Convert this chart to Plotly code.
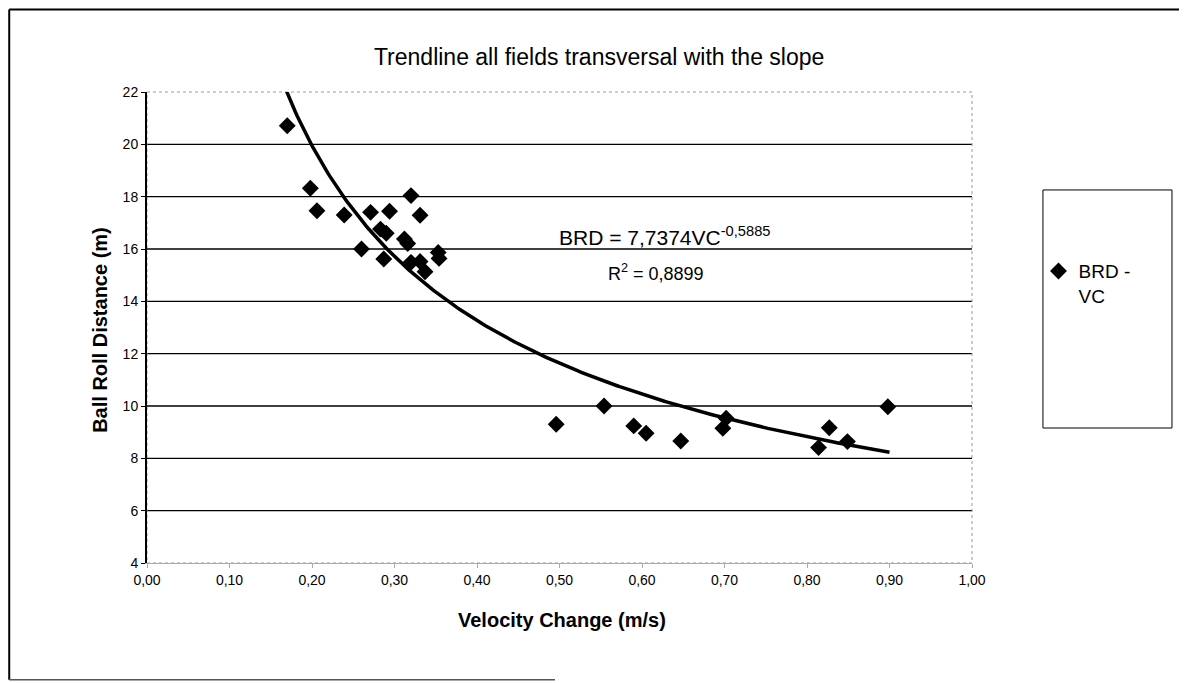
import numpy as np
import plotly.graph_objects as go

# Data
velocity_change = [0.170, 0.198, 0.206, 0.239, 0.260, 0.271, 0.283, 0.287, 0.290, 0.294,
                   0.312, 0.316, 0.320, 0.320, 0.331, 0.331, 0.337, 0.353, 0.354,
                   0.496, 0.554, 0.590, 0.605, 0.647, 0.698, 0.702, 0.814, 0.827, 0.849, 0.898]
ball_roll_distance = [20.71, 18.32, 17.46, 17.30, 16.00, 17.40, 16.76, 15.62, 16.60, 17.44,
                      16.38, 16.21, 18.04, 15.49, 17.29, 15.52, 15.13, 15.87, 15.64,
                      9.30, 10.00, 9.24, 8.96, 8.66, 9.15, 9.53, 8.41, 9.17, 8.64, 9.97]

# Power trendline as displayed on the chart: BRD = a * VC^b
trend_a = 7.7374
trend_b = -0.5885
trend_r2 = 0.8899
trend_x_start = 0.165
trend_x_end = 0.90

x_ticks = [0.0, 0.1, 0.2, 0.3, 0.4, 0.5, 0.6, 0.7, 0.8, 0.9, 1.0]
y_ticks = [4, 6, 8, 10, 12, 14, 16, 18, 20, 22]
y_grid = [6, 8, 10, 12, 14, 16, 18, 20]

FONT = "Arial, Liberation Sans, sans-serif"

tx = np.linspace(trend_x_start, trend_x_end, 300)
ty = trend_a * tx ** trend_b

fig = go.Figure()

# gridlines
for g in y_grid:
    fig.add_shape(type="line", xref="paper", yref="y", x0=0, x1=1, y0=g, y1=g,
                  line=dict(color="black", width=1.3), layer="below")

fig.add_trace(go.Scatter(
    x=velocity_change, y=ball_roll_distance, mode="markers",
    name="BRD -<br>VC",
    marker=dict(symbol="diamond", size=13, color="black"),
))
fig.add_trace(go.Scatter(
    x=tx, y=ty, mode="lines", showlegend=False,
    line=dict(color="black", width=3.5), hoverinfo="skip",
))

# plot area border (dotted grey)
fig.add_shape(type="rect", xref="paper", yref="paper", x0=0, x1=1, y0=0, y1=1,
              line=dict(color="#999999", width=1, dash="dot"), layer="below")

# legend box
fig.add_shape(type="rect", xref="paper", yref="paper",
              x0=1.086, x1=1.2424, y0=0.2866, y1=0.792,
              line=dict(color="black", width=1))

# outer frame (top, left, partial bottom)
fig.add_shape(type="line", xref="paper", yref="paper", x0=-0.167, x1=1.3, y0=1.175, y1=1.175,
              line=dict(color="black", width=2))
fig.add_shape(type="line", xref="paper", yref="paper", x0=-0.167, x1=-0.167, y0=-0.248, y1=1.175,
              line=dict(color="black", width=2))
fig.add_shape(type="line", xref="paper", yref="paper", x0=-0.167, x1=0.4945, y0=-0.248, y1=-0.248,
              line=dict(color="#555555", width=1.5))

# equation annotations
fig.add_annotation(x=0.497, y=16.5, xref="x", yref="y", xanchor="left", yanchor="middle",
                   text="BRD = 7,7374VC<sup>-0,5885</sup>", showarrow=False,
                   font=dict(family=FONT, size=21, color="black"))
fig.add_annotation(x=0.617, y=15.1, xref="x", yref="y", xanchor="center", yanchor="middle",
                   text="R<sup>2</sup> = 0,8899", showarrow=False,
                   font=dict(family=FONT, size=18, color="black"))

# axis titles
fig.add_annotation(x=0.503, y=-0.121, xref="paper", yref="paper", xanchor="center", yanchor="middle",
                   text="<b>Velocity Change (m/s)</b>", showarrow=False,
                   font=dict(family=FONT, size=20, color="black"))
fig.add_annotation(x=-0.057, y=0.495, xref="paper", yref="paper", xanchor="center", yanchor="middle",
                   text="<b>Ball Roll Distance (m)</b>", showarrow=False, textangle=-90,
                   font=dict(family=FONT, size=20, color="black"))

fig.update_layout(
    width=1187, height=683,
    margin=dict(l=139, r=223, t=84, b=128),
    paper_bgcolor="white", plot_bgcolor="white",
    separators=",.",
    font=dict(family=FONT, color="black"),
    title=dict(text="Trendline all fields transversal with the slope",
               xref="container", yref="container",
               x=0.498, xanchor="center", y=0.928, yanchor="middle",
               font=dict(family=FONT, size=23, color="black")),
    showlegend=True,
    legend=dict(x=1.0806, y=0.66, xanchor="left", yanchor="top", valign="top",
                font=dict(family=FONT, size=19, color="black"),
                bgcolor="rgba(0,0,0,0)", borderwidth=0, itemwidth=30),
    xaxis=dict(range=[0, 1], tickvals=x_ticks, tickformat=".2f",
               showgrid=False, zeroline=False,
               showline=True, linecolor="#aaaaaa", linewidth=1,
               ticks="outside", ticklen=4, tickcolor="#aaaaaa",
               tickfont=dict(family=FONT, size=14, color="black")),
    yaxis=dict(range=[4, 22], tickvals=y_ticks,
               showgrid=False, zeroline=False,
               showline=True, linecolor="black", linewidth=2,
               ticks="outside", ticklen=4, tickcolor="black",
               tickfont=dict(family=FONT, size=14, color="black")),
)

fig.write_html("out.html")
